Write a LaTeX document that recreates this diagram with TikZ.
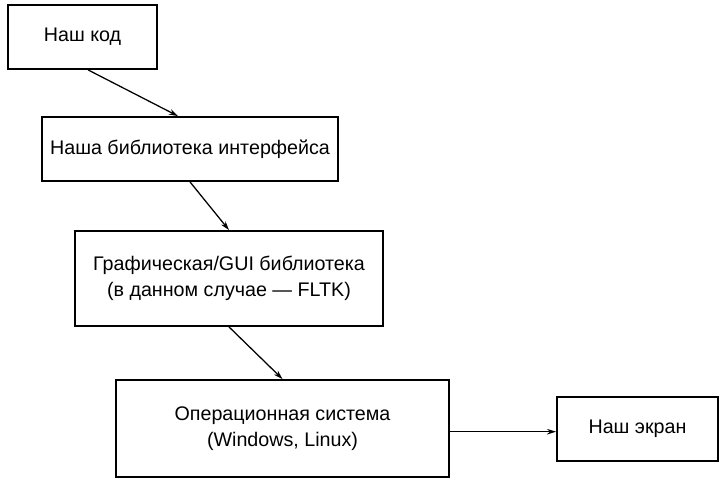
\documentclass[tikz,border=0pt]{standalone}
\usepackage{fontspec}
\setmainfont{Liberation Sans}
\usetikzlibrary{arrows.meta}

\begin{document}
\begin{tikzpicture}[x=0.025cm,y=-0.025cm,
    layer/.style={draw, line width=1.3pt, align=center, inner sep=0pt,
        font=\fontsize{14}{18.5}\selectfont},
    link/.style={-{Stealth[length=6.5pt,width=4pt]}, line width=0.9pt}]
    \useasboundingbox (0,0) rectangle (723,478);

    % Layers, top to bottom
    \node[layer, minimum width=3.725cm, minimum height=1.6cm] (code) at (82.5,37) {Наш код};
    \node[layer, minimum width=7.4cm, minimum height=1.6cm] (uilib) at (190,149) {Наша библиотека интерфейса};
    \node[layer, minimum width=7.7cm, minimum height=2.375cm] (gui) at (229,278.5)
        {Графическая/GUI библиотека\\(в данном случае --- FLTK)};
    \node[layer, minimum width=8.325cm, minimum height=2.425cm] (os) at (282.5,428.5)
        {Операционная система\\(Windows, Linux)};
    \node[layer, minimum width=4.025cm, minimum height=1.6cm] (screen) at (637.5,429) {Наш экран};

    % Calls
    \draw[link] ([xshift=0.14cm]code.south) -- ([xshift=-0.3cm]uilib.north);
    \draw[link] (uilib.south) -- (gui.north);
    \draw[link] (gui.south) -- (os.north);
    \draw[link] ([yshift=-0.08cm]os.east) -- ([yshift=-0.08cm]os.east -| screen.west);

\end{tikzpicture}
\end{document}
